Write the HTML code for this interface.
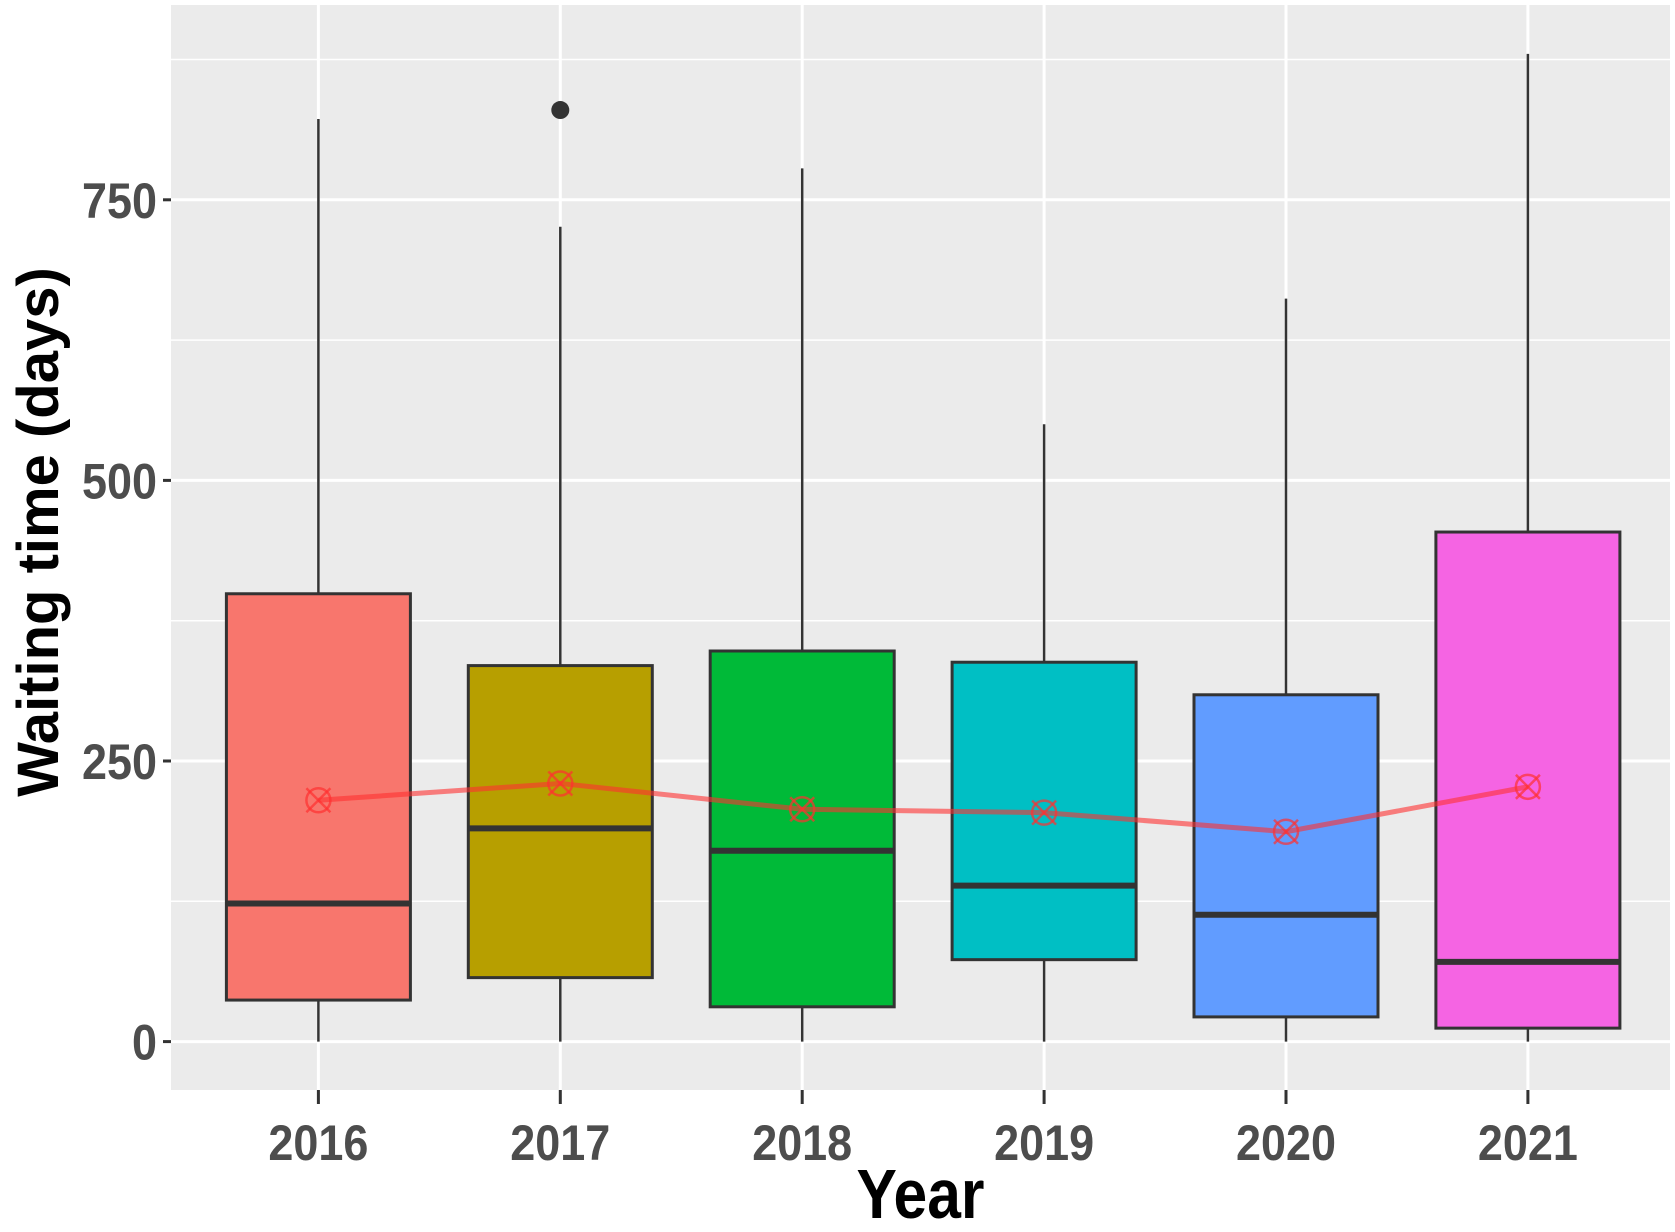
<!DOCTYPE html>
<html><head><meta charset="utf-8"><style>
html,body{margin:0;padding:0;background:#fff;}
svg{display:block;}
.tick{font-family:"Liberation Sans Narrow","Liberation Sans",sans-serif;font-weight:bold;fill:#4d4d4d;font-size:50px;}
</style></head><body>
<svg id="chart" width="1675" height="1232" viewBox="0 0 1675 1232" xmlns="http://www.w3.org/2000/svg"></svg>
<script>
const years = ["2016","2017","2018","2019","2020","2021"];
const whiskerHigh = [822, 726, 778, 550, 662, 880];
const q3Values = [399, 335, 348, 338, 309, 454];
const medianValues = [123, 190, 170, 139, 113, 71];
const q1Values = [37, 57, 31, 73, 22, 12];
const whiskerLow = [0, 0, 0, 0, 0, 0];
const meanValues = [215, 230, 207, 204, 187, 227];
const outlierYears = ["2017"];
const outlierValues = [830];
const yTicks = [0, 250, 500, 750];
const yMinor = [125, 375, 625, 875];
const boxColors = ["#F8766D","#B79F00","#00BA38","#00BFC4","#619CFF","#F564E3"];

const NS = "http://www.w3.org/2000/svg";
const svg = document.getElementById("chart");
const P = {l:171, r:1670, t:5, b:1090};
const yScale = v => 1041.6 - v * (1041.6 - 199.8) / 750;
const xScale = i => 318.4 + i * 241.9;
const halfW = 92;
function mk(tag, attrs, parent){
  const e = document.createElementNS(NS, tag);
  for (const k in attrs) e.setAttribute(k, attrs[k]);
  (parent || svg).appendChild(e);
  return e;
}
let e = mk("rect",{x:P.l,y:P.t,width:P.r-P.l,height:P.b-P.t,fill:"#EBEBEB"});


yMinor.forEach(v=>{
  const g = mk("line",{x1:P.l,x2:P.r,y1:yScale(v),y2:yScale(v),stroke:"#fff","stroke-width":1.5});
  
  
});
yTicks.forEach(v=>{
  const g = mk("line",{x1:P.l,x2:P.r,y1:yScale(v),y2:yScale(v),stroke:"#fff","stroke-width":3});
  
  
  const t = mk("line",{x1:P.l-8,x2:P.l,y1:yScale(v),y2:yScale(v),stroke:"#333","stroke-width":3});
  
  
  const s = String(v);
  const l = mk("text",{x:P.l-14,y:yScale(v)+18,"text-anchor":"end",class:"tick",textLength:s.length*25,lengthAdjust:"spacingAndGlyphs"});
  l.textContent = s;
  
  
});
years.forEach((y,i)=>{
  const x = xScale(i);
  const g = mk("line",{x1:x,x2:x,y1:P.t,y2:P.b,stroke:"#fff","stroke-width":3});
  
  
  const t = mk("line",{x1:x,x2:x,y1:P.b,y2:P.b+14,stroke:"#333","stroke-width":3});
  
  
  const l = mk("text",{x:x,y:1160,"text-anchor":"middle",class:"tick",textLength:100,lengthAdjust:"spacingAndGlyphs"});
  l.textContent = y;
  
  
});
years.forEach((y,i)=>{
  const x = xScale(i);
  const w = mk("line",{x1:x,x2:x,y1:yScale(whiskerHigh[i]),y2:yScale(whiskerLow[i]),stroke:"#333","stroke-width":2.5});
  
  
  const b = mk("rect",{x:x-halfW,y:yScale(q3Values[i]),width:2*halfW,height:yScale(q1Values[i])-yScale(q3Values[i]),fill:boxColors[i],stroke:"#333","stroke-width":3});
  
  
  const m = mk("line",{x1:x-halfW,x2:x+halfW,y1:yScale(medianValues[i]),y2:yScale(medianValues[i]),stroke:"#333","stroke-width":6});
  
  
});
outlierYears.forEach((y,k)=>{
  const i = years.indexOf(y);
  const o = mk("circle",{cx:xScale(i),cy:yScale(outlierValues[k]),r:9,fill:"#333"});
  
  
});
const pts = meanValues.map((v,i)=>xScale(i)+","+yScale(v)).join(" ");
const ml = mk("polyline",{points:pts,fill:"none",stroke:"#FF3030","stroke-opacity":0.6,"stroke-width":5});


meanValues.forEach((v,i)=>{
  const x = xScale(i), yy = yScale(v);
  const g = mk("g",{stroke:"#FF3030","stroke-opacity":0.7,"stroke-width":2.5,fill:"none"});
  
  
  mk("circle",{cx:x,cy:yy,r:12},g);
  mk("line",{x1:x-12,y1:yy-12,x2:x+12,y2:yy+12},g);
  mk("line",{x1:x-12,y1:yy+12,x2:x+12,y2:yy-12},g);
});
let xt = mk("text",{x:(P.l+P.r)/2,y:1218,"text-anchor":"middle","font-family":"Liberation Sans Narrow, Liberation Sans, sans-serif","font-weight":"bold","font-size":"70",fill:"#000",textLength:128,lengthAdjust:"spacingAndGlyphs"});
xt.textContent = "Year";


let yt = mk("text",{x:0,y:0,transform:"translate(58,532) rotate(-90)","text-anchor":"middle","font-family":"Liberation Sans, sans-serif","font-weight":"bold","font-size":"58",fill:"#000"});
yt.textContent = "Waiting time (days)";


</script>
</body></html>
